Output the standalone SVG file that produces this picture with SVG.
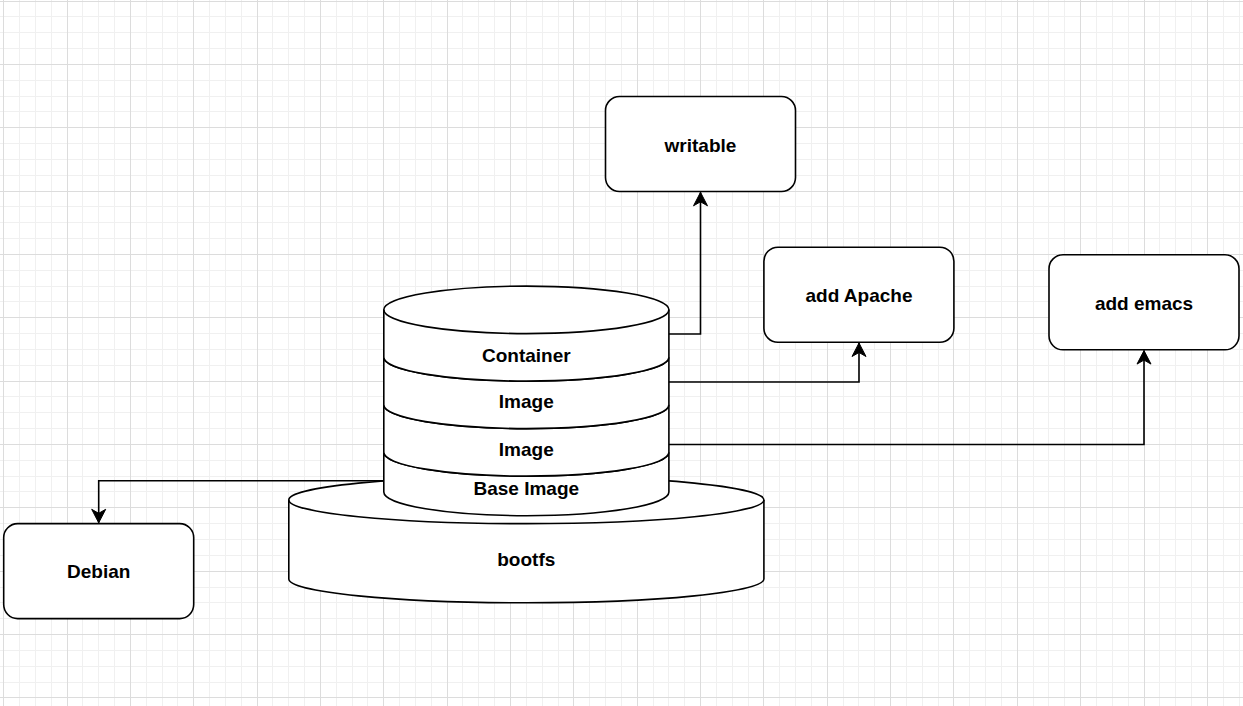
<svg xmlns="http://www.w3.org/2000/svg" width="1243" height="706" viewBox="0 0 1243 706">
<style>
.grid-minor{stroke:#f0f0f0;stroke-width:1;fill:none}
.grid-major{stroke:#dcdcdc;stroke-width:1;fill:none}
.shape{fill:#ffffff;stroke:#000000;stroke-width:1.6}
.line{fill:none;stroke:#000000;stroke-width:1.6}
.edge{fill:none;stroke:#000000;stroke-width:1.6;marker-end:url(#arrow)}
.lbl{font-family:"Liberation Sans",Arial,Helvetica,sans-serif;font-weight:bold;font-size:19px;fill:#000000;text-anchor:middle}
</style>
<defs>
<marker id="arrow" markerUnits="userSpaceOnUse" markerWidth="18" markerHeight="18" viewBox="-15 -9 18 18" refX="0" refY="0" orient="auto">
<path d="M0,0 L-13.5,-7 L-9.5,0 L-13.5,7 Z" fill="#000000" stroke="#000000" stroke-width="1"/>
</marker>
</defs>
<rect x="0" y="0" width="1243" height="706" fill="#ffffff"/>
<g id="grid">
<path class="grid-minor" d="M19.5 0V706M35.5 0V706M51.5 0V706M82.5 0V706M98.5 0V706M114.5 0V706M146.5 0V706M162.5 0V706M177.5 0V706M209.5 0V706M225.5 0V706M241.5 0V706M272.5 0V706M288.5 0V706M304.5 0V706M336.5 0V706M352.5 0V706M367.5 0V706M399.5 0V706M415.5 0V706M431.5 0V706M462.5 0V706M478.5 0V706M494.5 0V706M526.5 0V706M542.5 0V706M558.5 0V706M589.5 0V706M605.5 0V706M621.5 0V706M653.5 0V706M668.5 0V706M684.5 0V706M716.5 0V706M732.5 0V706M748.5 0V706M779.5 0V706M795.5 0V706M811.5 0V706M843.5 0V706M858.5 0V706M874.5 0V706M906.5 0V706M922.5 0V706M938.5 0V706M969.5 0V706M985.5 0V706M1001.5 0V706M1033.5 0V706M1048.5 0V706M1064.5 0V706M1096.5 0V706M1112.5 0V706M1128.5 0V706M1159.5 0V706M1175.5 0V706M1191.5 0V706M1223.5 0V706M1239.5 0V706M0 16.5H1243M0 32.5H1243M0 48.5H1243M0 80.5H1243M0 96.5H1243M0 111.5H1243M0 143.5H1243M0 159.5H1243M0 175.5H1243M0 206.5H1243M0 222.5H1243M0 238.5H1243M0 270.5H1243M0 286.5H1243M0 301.5H1243M0 333.5H1243M0 349.5H1243M0 365.5H1243M0 396.5H1243M0 412.5H1243M0 428.5H1243M0 460.5H1243M0 476.5H1243M0 491.5H1243M0 523.5H1243M0 539.5H1243M0 555.5H1243M0 587.5H1243M0 602.5H1243M0 618.5H1243M0 650.5H1243M0 666.5H1243M0 682.5H1243"/>
<path class="grid-major" d="M3.5 0V706M67.5 0V706M130.5 0V706M193.5 0V706M257.5 0V706M320.5 0V706M383.5 0V706M447.5 0V706M510.5 0V706M573.5 0V706M637.5 0V706M700.5 0V706M763.5 0V706M827.5 0V706M890.5 0V706M953.5 0V706M1017.5 0V706M1080.5 0V706M1144.5 0V706M1207.5 0V706M0 1.5H1243M0 64.5H1243M0 127.5H1243M0 191.5H1243M0 254.5H1243M0 317.5H1243M0 381.5H1243M0 444.5H1243M0 507.5H1243M0 571.5H1243M0 634.5H1243M0 697.5H1243"/>
</g>
<g id="bootfs">
<path class="shape" d="M288.8,499.9 A237.55,23.76 0 0 1 763.9,499.9 V579.05 A237.55,23.76 0 0 1 288.8,579.05 Z"/>
<path class="line" d="M288.8,499.9 A237.55,23.76 0 0 0 763.9,499.9"/>
<text class="lbl" x="526.3" y="566">bootfs</text>
</g>
<g id="base-image">
<path class="shape" d="M383.8,452.37 A142.55,23.76 0 0 0 668.9,452.37 V491.96 A142.55,23.76 0 0 1 383.8,491.96 Z"/>
<text class="lbl" x="526.3" y="495.3">Base Image</text>
</g>
<g id="image-2">
<path class="shape" d="M383.8,404.85 A142.55,23.76 0 0 0 668.9,404.85 V452.37 A142.55,23.76 0 0 1 383.8,452.37 Z"/>
<text class="lbl" x="526.3" y="456">Image</text>
</g>
<g id="image-1">
<path class="shape" d="M383.8,357.34 A142.55,23.76 0 0 0 668.9,357.34 V404.85 A142.55,23.76 0 0 1 383.8,404.85 Z"/>
<text class="lbl" x="526.3" y="408.2">Image</text>
</g>
<g id="container">
<path class="shape" d="M383.8,309.84 A142.55,23.76 0 0 1 668.9,309.84 V357.34 A142.55,23.76 0 0 1 383.8,357.34 Z"/>
<path class="line" d="M383.8,309.84 A142.55,23.76 0 0 0 668.9,309.84"/>
<text class="lbl" x="526.3" y="361.7">Container</text>
</g>
<g id="writable">
<rect class="shape" x="605.5" y="96.5" width="190" height="95" rx="14" ry="14"/>
<text class="lbl" x="700.5" y="151.5">writable</text>
</g>
<g id="add-apache">
<rect class="shape" x="763.9" y="247.2" width="190" height="95" rx="14" ry="14"/>
<text class="lbl" x="859" y="302">add Apache</text>
</g>
<g id="add-emacs">
<rect class="shape" x="1049" y="254.8" width="190" height="95" rx="14" ry="14"/>
<text class="lbl" x="1144" y="309.5">add emacs</text>
</g>
<g id="debian">
<rect class="shape" x="3.7" y="523.6" width="190" height="95" rx="14" ry="14"/>
<text class="lbl" x="98.7" y="578.3">Debian</text>
</g>
<g id="connectors">
<path class="edge" d="M668.9,334 H700.5 V192.3"/>
<path class="edge" d="M668.9,382 H859 V343"/>
<path class="edge" d="M668.9,444.5 H1144 V350.6"/>
<path class="edge" d="M383.8,480.7 H98.7 V522.8"/>
</g>
</svg>
